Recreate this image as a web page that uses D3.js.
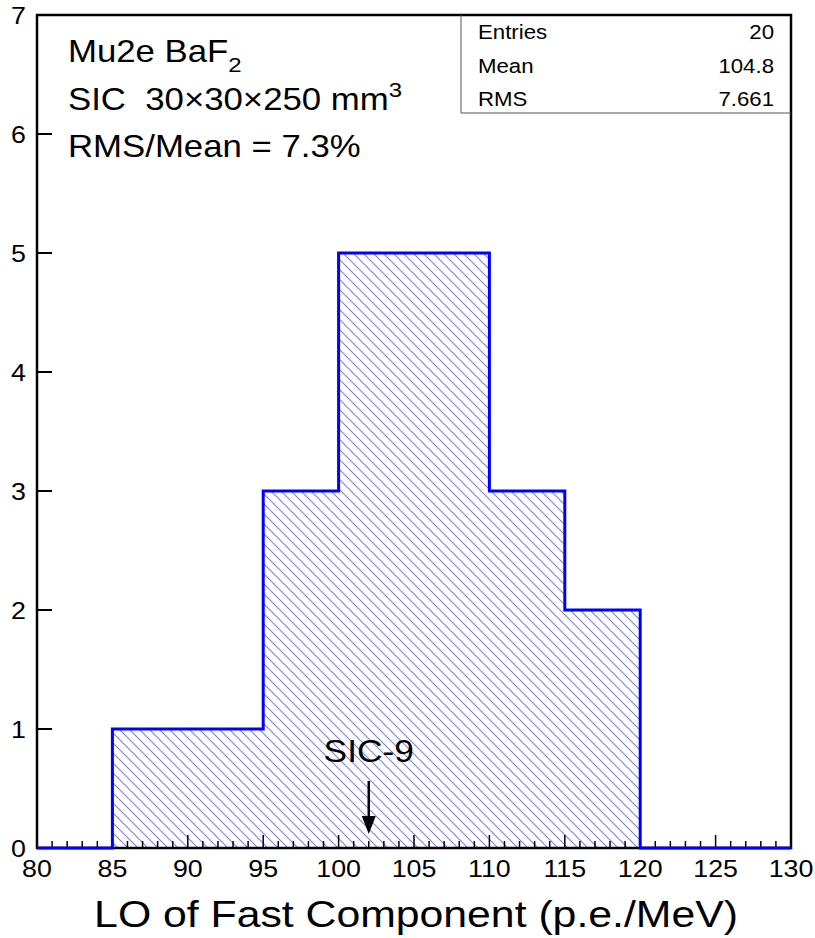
<!DOCTYPE html>
<html><head><meta charset="utf-8">
<script src="https://cdn.jsdelivr.net/npm/d3@7"></script>
<style>body{margin:0;background:#fff}svg{display:block;font-family:Arial,"Liberation Sans",sans-serif}</style>
</head><body><svg id="c" width="815" height="938"></svg>
<script>
const binEdges = [80,85,90,95,100,105,110,115,120,125,130];
const counts = [0,1,1,3,5,5,3,2,0,0];
const xTicks = [80,85,90,95,100,105,110,115,120,125,130];
const yTicks = [0,1,2,3,4,5,6,7];
const statsLabels = ["Entries","Mean","RMS"];
const statsValues = ["20","104.8","7.661"];
const markerX = 102;
const markerLabel = "SIC-9";

const svg = d3.select("#c");
const L=37,R=791,T=15,B=848;
const SX=1.14;
const x = d3.scaleLinear().domain([80,130]).range([L,R]);
const y = d3.scaleLinear().domain([0,7]).range([B,T]);

function txt(px,py,size,anchor){
  const g = svg.append("g").attr("transform",`translate(${px},${py}) scale(${SX},1)`);
  return g.append("text").attr("font-size",size).attr("text-anchor",anchor||"start");
}

const defs = svg.append("defs");
const pat = defs.append("pattern").attr("id","hatch").attr("patternUnits","userSpaceOnUse")
  .attr("width",10).attr("height",10);
pat.append("path").attr("d","M-5,5 L5,15 M0,0 L10,10 M5,-5 L15,5")
  .attr("stroke","#8080f0").attr("stroke-width",1.1);

// histogram fill
const pts=[];
binEdges.slice(0,-1).forEach((e,i)=>{pts.push([x(e),y(counts[i])]);pts.push([x(binEdges[i+1]),y(counts[i])]);});
const area = d3.area().x(d=>d[0]).y0(y(0)).y1(d=>d[1]);
svg.append("path").attr("d",area(pts)).attr("fill","url(#hatch)");

// frame
svg.append("rect").attr("x",L).attr("y",T).attr("width",R-L).attr("height",B-T)
  .attr("fill","none").attr("stroke","#000").attr("stroke-width",2.5);

// stats box
const sbL=461, sbB=113;
svg.append("path").attr("d",`M${sbL},${T} L${sbL},${sbB} L${R},${sbB}`).attr("fill","none").attr("stroke","#555").attr("stroke-width",1);
statsLabels.forEach((s,i)=>{
  const yy=39+i*33.5;
  txt(478,yy,19.5).text(s);
  txt(774,yy,19.5,"end").text(statsValues[i]);
});

// x axis ticks (inside, upward)
const xa = svg.append("g");
d3.range(80,131,1).forEach(v=>{
  const major = v%5===0;
  xa.append("line").attr("x1",x(v)).attr("x2",x(v)).attr("y1",B).attr("y2",B-(major?13:7)).attr("stroke","#000").attr("stroke-width",1.5);
});
xTicks.forEach(v=>{
  txt(x(v),877,23.5,"middle").text(v);
});
// y axis ticks
yTicks.forEach(v=>{
  svg.append("line").attr("x1",L).attr("x2",L+15).attr("y1",y(v)).attr("y2",y(v)).attr("stroke","#000").attr("stroke-width",2);
  txt(26,y(v)+9,23.5,"end").text(v);
});

// histogram outline
const line = d3.line().x(d=>d[0]).y(d=>d[1]);
const out=[[x(80),y(0)]];
binEdges.slice(0,-1).forEach((e,i)=>{out.push([x(e),y(counts[i])]);out.push([x(binEdges[i+1]),y(counts[i])]);});
out.push([x(130),y(0)]);
svg.append("path").attr("d",line(out)).attr("fill","none").attr("stroke","#0000ff").attr("stroke-width",3);

// axis title
txt(416,927,37.5,"middle").text("LO of Fast Component (p.e./MeV)");

// annotation text
const t1 = txt(68,62,30.5);
t1.append("tspan").text("Mu2e BaF");
t1.append("tspan").attr("font-size",21).attr("dy",10).text("2");
const t2 = txt(68,110,30.5);
t2.append("tspan").text("SIC\u00a0\u00a030\u00d730\u00d7250 mm");
t2.append("tspan").attr("font-size",21).attr("dy",-13).text("3");
txt(68,157,30.5).text("RMS/Mean = 7.3%");

// marker
txt(x(markerX),762,31,"middle").text(markerLabel);
svg.append("line").attr("x1",x(markerX)).attr("x2",x(markerX)).attr("y1",781).attr("y2",820).attr("stroke","#000").attr("stroke-width",2.5);
svg.append("path").attr("d",`M${x(markerX)-7},${816} L${x(markerX)+7},${816} L${x(markerX)},${834} Z`).attr("fill","#000");
</script></body></html>
